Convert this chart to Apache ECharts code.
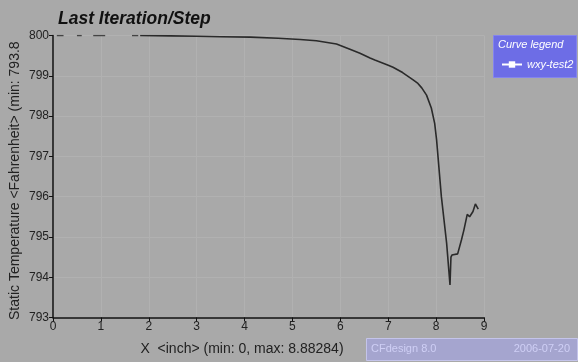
<!DOCTYPE html>
<html><head><meta charset="utf-8">
<script src="https://cdn.jsdelivr.net/npm/echarts@6/dist/echarts.min.js"></script>
<style>html,body{margin:0;padding:0;background:#a9a9a9;}#c{width:578px;height:362px;}</style>
</head><body><div id="c"></div>
<script>
const xTicks = [0,1,2,3,4,5,6,7,8,9];
const yTicks = [793,794,795,796,797,798,799,800];
const curveX = [1.82,2.45,3.0,3.5,4.12,4.7,5.16,5.5,5.92,6.2,6.41,6.62,6.72,7.0,7.10,7.3,7.52,7.62,7.70,7.80,7.90,7.97,8.01,8.11,8.22,8.29,8.31,8.33,8.45,8.53,8.58,8.65,8.70,8.73,8.77,8.82,8.86,8.88];
const curveY = [800.0,799.99,799.98,799.97,799.96,799.93,799.9,799.87,799.79,799.66,799.56,799.44,799.39,799.26,799.21,799.08,798.9,798.81,798.7,798.52,798.2,797.82,797.41,796.0,794.84,793.81,794.5,794.55,794.58,794.93,795.17,795.56,795.5,795.5,795.63,795.82,795.79,795.69];
const dashStart = [0.08,0.5,0.84,1.65];
const dashEnd = [0.22,0.6,1.09,1.78];
const dashY = 800;

const dashData = [];
dashStart.forEach((s,i)=>{ dashData.push([s,dashY],[dashEnd[i],dashY],'-'); });

const chart = echarts.init(document.getElementById('c'));
const F = 'Liberation Sans, Arial, sans-serif';
chart.setOption({
  backgroundColor:'#a9a9a9',
  animation:false,
  title:{text:'Last Iteration/Step',left:53,top:5,textStyle:{fontFamily:F,fontSize:17.5,fontWeight:'bold',fontStyle:'italic',color:'#111'}},
  grid:{left:53,right:94,top:35.5,bottom:44.5,outerBoundsMode:'none',containLabel:false},
  legend:{data:['wxy-test2'],left:496,top:54,itemWidth:20,itemHeight:8,itemGap:2,
    textStyle:{color:'#fff',fontStyle:'italic',fontFamily:F,fontSize:11},
    itemStyle:{color:'#fff'},lineStyle:{color:'#fff',width:2}},
  xAxis:{type:'value',min:0,max:9,interval:1,
    axisLine:{lineStyle:{color:'#111',width:1.5}},
    axisTick:{show:true,inside:false,length:4,lineStyle:{color:'#111'}},
    axisLabel:{fontFamily:F,fontSize:12,color:'#222',margin:3,formatter:v=>xTicks.includes(v)?String(v):''},
    splitLine:{show:true,lineStyle:{color:'#b1b1b1',width:1}}},
  yAxis:{type:'value',min:793,max:800,interval:1,
    axisLine:{show:true,lineStyle:{color:'#111',width:1.5}},
    axisTick:{show:true,length:4,lineStyle:{color:'#111'}},
    axisLabel:{fontFamily:F,fontSize:12,color:'#222',margin:4,formatter:v=>yTicks.includes(v)?String(v):''},
    splitLine:{show:true,lineStyle:{color:'#b1b1b1',width:1}}},
  series:[
    {name:'wxy-test2',type:'line',data:curveX.map((x,i)=>[x,curveY[i]]),symbol:'rect',symbolSize:7,showSymbol:false,
     lineStyle:{color:'#2a2a2a',width:1.6},itemStyle:{color:'#2a2a2a'}},
    {name:'dash',type:'line',data:dashData,showSymbol:false,connectNulls:false,lineStyle:{color:'#444',width:1.6}}
  ],
  graphic:[
    {type:'rect',left:493,top:35,z:-1,shape:{width:83,height:42},style:{fill:'#6d6de6',stroke:'#8484ee'}},
    {type:'text',left:498,top:39,style:{text:'Curve legend',fill:'#fff',font:'italic 11px '+F}},
    {type:'text',x:15,y:320,rotation:Math.PI/2,style:{text:'Static Temperature <Fahrenheit> (min: 793.8',fill:'#222',font:'14px '+F,textAlign:'left',textVerticalAlign:'middle'}},
    {type:'text',x:242,y:349,style:{text:'X  <inch> (min: 0, max: 8.88284)',fill:'#222',font:'14px '+F,textAlign:'center',textVerticalAlign:'middle'}},
    {type:'rect',left:366,top:338,shape:{width:211,height:22},style:{fill:'#a5a5cf',stroke:'#c4c4ea',lineWidth:1}},
    {type:'text',left:371,top:343,style:{text:'CFdesign 8.0',fill:'#cfcff5',font:'11px '+F}},
    {type:'text',right:8,top:343,style:{text:'2006-07-20',fill:'#cfcff5',font:'11px '+F}}
  ]
});
</script></body></html>
